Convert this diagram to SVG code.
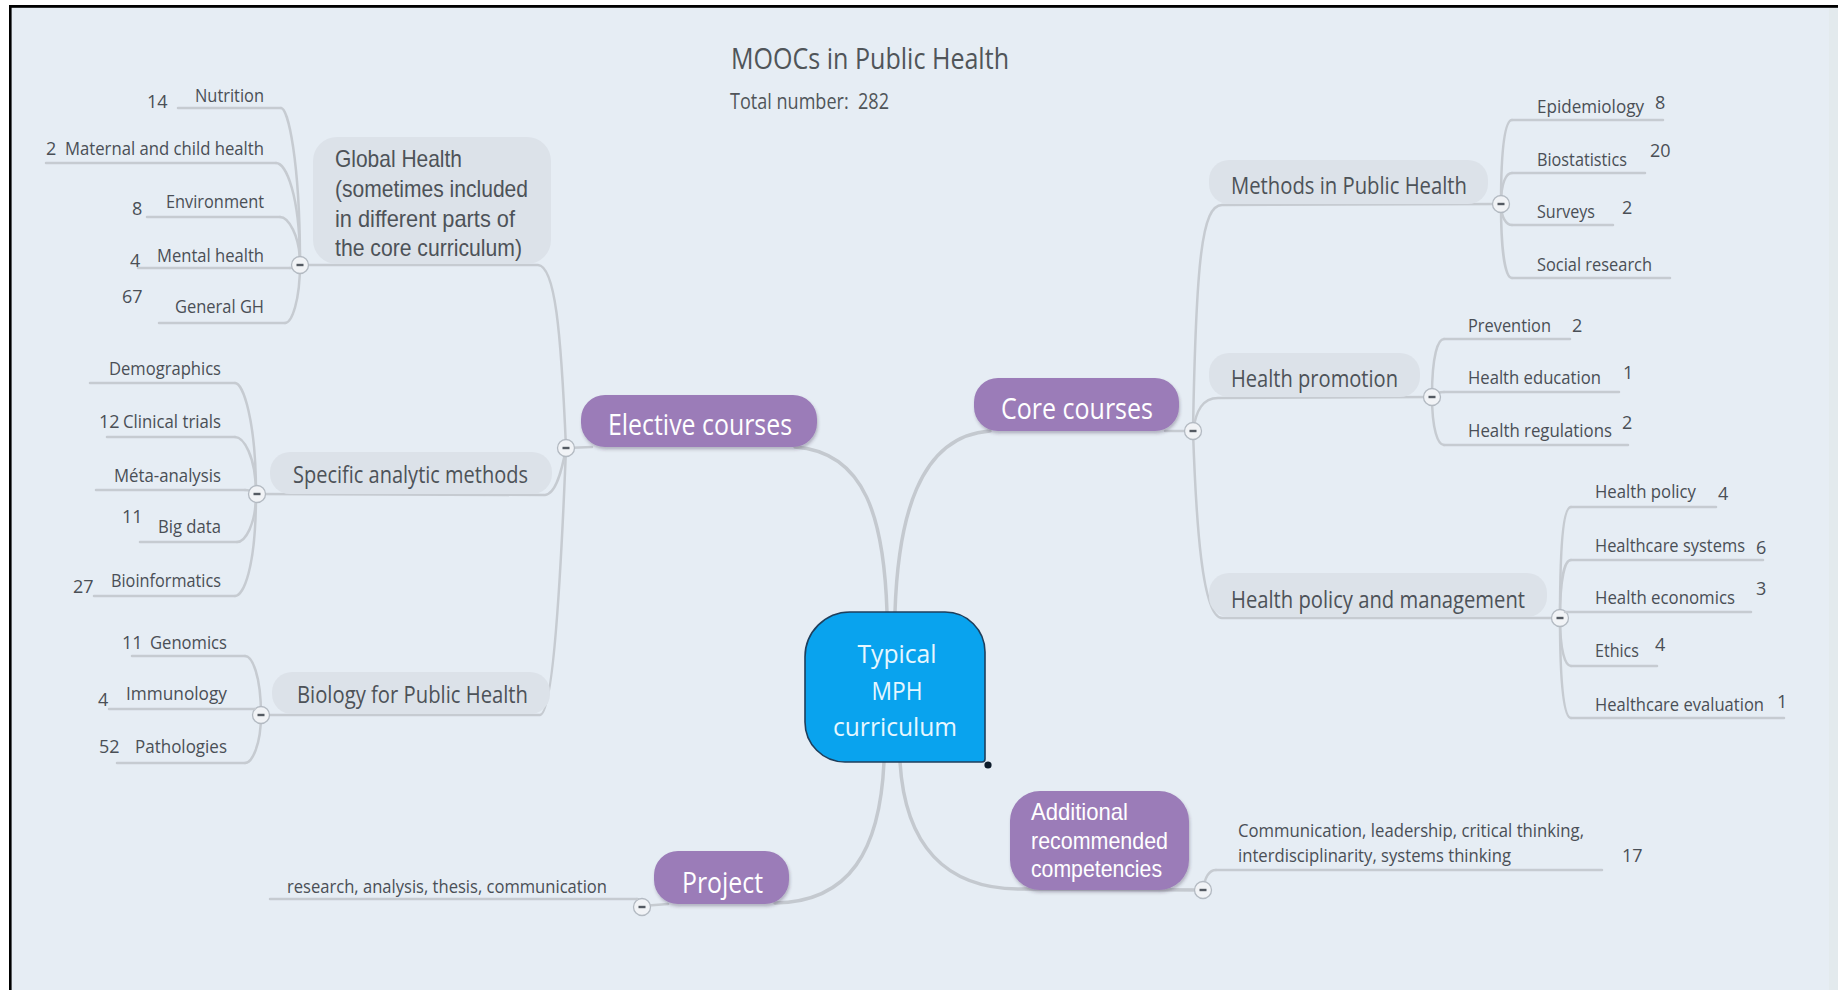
<svg xmlns="http://www.w3.org/2000/svg" width="1838" height="990" viewBox="0 0 1838 990">
<defs>
<style>
.bg{fill:#e6edf4}
.conn{fill:none;stroke:#c6cbd1;stroke-width:2.5;stroke-linecap:round}
.main{fill:none;stroke:#c4c9cf;stroke-width:3.5;stroke-linecap:round}
.ul{stroke:#c6cbd1;stroke-width:2.5;stroke-linecap:round}
.leaf{font-family:"Open Sans","Liberation Sans",sans-serif;font-size:18px;fill:#4a4f56}
.box{fill:#dce2e9}
.boxt{font-family:"Open Sans","Liberation Sans",sans-serif;font-size:23px;fill:#4d5258}
.boxm{font-family:"Liberation Sans",Arial,sans-serif;font-size:24px;fill:#4d5258}
.pur{fill:#9b7cb8;filter:url(#sh)}
.purt{font-family:"Open Sans","Liberation Sans",sans-serif;font-size:29px;fill:#ffffff}
.addt{font-family:"Liberation Sans",Arial,sans-serif;font-size:24px;fill:#ffffff}
.title{font-family:"Open Sans","Liberation Sans",sans-serif;fill:#505559}
.ctr{font-family:"Open Sans","Liberation Sans",sans-serif;font-size:26px;fill:#e6f7ff;text-anchor:middle}
</style>
<filter id="sh" x="-10%" y="-20%" width="120%" height="150%">
<feDropShadow dx="1" dy="2.5" stdDeviation="1.8" flood-color="#3a2f4a" flood-opacity="0.3"/>
</filter>
<g id="minus">
<circle cx="0" cy="0" r="8.5" fill="#f1f3f6" stroke="#b3bac2" stroke-width="1.3"/>
<rect x="-3.5" y="-1.2" width="7" height="2.4" fill="#545a62"/>
</g>
</defs>

<rect x="0" y="0" width="1838" height="990" fill="#ffffff"/>
<rect class="bg" x="11" y="7" width="1827" height="983"/>
<rect x="1829" y="7" width="9" height="983" fill="#e3eaed"/>
<rect x="9" y="5" width="1829" height="2.8" fill="#000"/>
<rect x="9" y="5" width="2.6" height="985" fill="#000"/>

<g id="title">
<text class="title" x="731" y="69" font-size="29" textLength="278" lengthAdjust="spacingAndGlyphs">MOOCs in Public Health</text>
<text class="title" x="730" y="109" font-size="21" textLength="159" lengthAdjust="spacingAndGlyphs">Total number:&#160; 282</text>
</g>

<g id="connectors">
<path class="main" d="M887 612 C884 520 866 452 795 447"/>
<path class="main" d="M895 612 C898 520 918 436 990 431"/>
<path class="main" d="M884 762 C880 850 850 902 775 903"/>
<path class="main" d="M900 762 C905 845 945 889 1020 889 L1203 890"/>
<path class="conn" d="M566 448 L592 447"/>
<path class="conn" d="M1165 431 L1193 431"/>
<path class="conn" d="M642 906 L668 904"/>
<path class="conn" d="M300 265 L538 265 C555 266 561 330 566 448"/>
<path class="conn" d="M257 494 L545 495 C556 494 562 470 566 448"/>
<path class="conn" d="M261 715 L540 715 C552 714 560 600 566 448"/>
<path class="conn" d="M1501 204 L1222 205 C1202 205 1196 260 1193 431"/>
<path class="conn" d="M1432 397 L1218 398 C1203 398 1196 410 1193 431"/>
<path class="conn" d="M1560 618 L1222 618 C1202 618 1196 520 1193 431"/>
<path class="conn" d="M300 264 C300 160 288 108 281 108"/>
<path class="conn" d="M300 264 C300 195 286 163 276 163"/>
<path class="conn" d="M300 264 C300 235 288 217 280 217"/>
<path class="conn" d="M300 264 C296 266 293 268 290 268"/>
<path class="conn" d="M300 264 C300 300 292 323 285 323"/>
<path class="conn" d="M256 494 C256 420 243 383 235 383"/>
<path class="conn" d="M256 494 C256 455 243 437 235 437"/>
<path class="conn" d="M256 494 C252 491 249 490 245 490"/>
<path class="conn" d="M256 494 C256 525 245 542 237 542"/>
<path class="conn" d="M256 494 C256 570 243 596 235 596"/>
<path class="conn" d="M261 715 C261 675 252 656 245 656"/>
<path class="conn" d="M261 715 C259 711 257 709 255 709"/>
<path class="conn" d="M261 715 C261 745 252 763 245 763"/>
<path class="conn" d="M1501 204 C1501 140 1506 120 1512 120"/>
<path class="conn" d="M1501 204 C1501 183 1506 173 1512 173"/>
<path class="conn" d="M1501 204 C1501 217 1506 225 1512 225"/>
<path class="conn" d="M1501 204 C1501 255 1506 278 1512 278"/>
<path class="conn" d="M1432 396 C1432 355 1438 339 1444 339"/>
<path class="conn" d="M1432 396 C1436 393 1440 392 1444 392"/>
<path class="conn" d="M1432 396 C1432 430 1438 445 1444 445"/>
<path class="conn" d="M1560 618 C1560 530 1565 507 1571 507"/>
<path class="conn" d="M1560 618 C1560 578 1565 560 1571 560"/>
<path class="conn" d="M1560 618 C1561 614 1563 612 1565 612"/>
<path class="conn" d="M1560 618 C1560 650 1565 666 1571 666"/>
<path class="conn" d="M1560 618 C1560 695 1565 718 1571 718"/>
<path class="conn" d="M1203 890 C1205 876 1210 870 1216 870"/>
<path class="conn" d="M642 907 C641 902 639 899 637 899"/>
</g>

<g id="central">
<path d="M850 612 H945 A40 40 0 0 1 985 652 V759 A3 3 0 0 1 982 762 H845 A40 40 0 0 1 805 722 V657 A45 45 0 0 1 850 612 Z" fill="#09a3ee" stroke="#1f3f5c" stroke-width="1.6"/>
<text class="ctr" x="897" y="663" textLength="79" lengthAdjust="spacingAndGlyphs">Typical</text>
<text class="ctr" x="897" y="700" textLength="51" lengthAdjust="spacingAndGlyphs">MPH</text>
<text class="ctr" x="895" y="736" textLength="124" lengthAdjust="spacingAndGlyphs">curriculum</text>
<circle cx="988" cy="765" r="3.6" fill="#0d1b2a"/>
</g>

<g id="elective">
<rect class="pur" x="581" y="395" width="236" height="52" rx="24"/>
<text class="purt" x="608" y="435" textLength="184" lengthAdjust="spacingAndGlyphs">Elective courses</text>
<use href="#minus" x="566" y="448"/>
</g>
<g id="core">
<rect class="pur" x="974" y="378" width="205" height="53" rx="24"/>
<text class="purt" x="1001" y="419" textLength="152" lengthAdjust="spacingAndGlyphs">Core courses</text>
<use href="#minus" x="1193" y="431"/>
</g>
<g id="project">
<rect class="pur" x="654" y="851" width="135" height="53" rx="24"/>
<text class="purt" x="682" y="893" textLength="81" lengthAdjust="spacingAndGlyphs">Project</text>
<use href="#minus" x="642" y="907"/>
</g>
<g id="additional">
<rect class="pur" x="1010" y="791" width="179" height="99" rx="30"/>
<text class="addt" x="1031" y="820" textLength="97" lengthAdjust="spacingAndGlyphs">Additional</text>
<text class="addt" x="1031" y="849" textLength="137" lengthAdjust="spacingAndGlyphs">recommended</text>
<text class="addt" x="1031" y="877" textLength="131" lengthAdjust="spacingAndGlyphs">competencies</text>
<use href="#minus" x="1203" y="890"/>
</g>

<g id="global-health">
<rect class="box" x="313" y="137" width="238" height="127" rx="24"/>
<text class="boxm" x="335" y="167" textLength="127" lengthAdjust="spacingAndGlyphs">Global Health</text>
<text class="boxm" x="335" y="197" textLength="193" lengthAdjust="spacingAndGlyphs">(sometimes included</text>
<text class="boxm" x="335" y="227" textLength="180" lengthAdjust="spacingAndGlyphs">in different parts of</text>
<text class="boxm" x="335" y="256" textLength="187" lengthAdjust="spacingAndGlyphs">the core curriculum)</text>
<use href="#minus" x="300" y="265"/>
</g>
<g id="specific">
<rect class="box" x="270" y="452" width="282" height="42" rx="20"/>
<text class="boxt" x="293" y="483" textLength="235" lengthAdjust="spacingAndGlyphs">Specific analytic methods</text>
<use href="#minus" x="257" y="494"/>
</g>
<g id="biology">
<rect class="box" x="272" y="672" width="278" height="42" rx="20"/>
<text class="boxt" x="297" y="703" textLength="231" lengthAdjust="spacingAndGlyphs">Biology for Public Health</text>
<use href="#minus" x="261" y="715"/>
</g>
<g id="methods">
<rect class="box" x="1209" y="160" width="279" height="44" rx="20"/>
<text class="boxt" x="1231" y="194" textLength="236" lengthAdjust="spacingAndGlyphs">Methods in Public Health</text>
<use href="#minus" x="1501" y="204"/>
</g>
<g id="promotion">
<rect class="box" x="1209" y="353" width="211" height="44" rx="20"/>
<text class="boxt" x="1231" y="387" textLength="167" lengthAdjust="spacingAndGlyphs">Health promotion</text>
<use href="#minus" x="1432" y="397"/>
</g>
<g id="hpm">
<rect class="box" x="1209" y="573" width="338" height="44" rx="20"/>
<text class="boxt" x="1231" y="608" textLength="294" lengthAdjust="spacingAndGlyphs">Health policy and management</text>
<use href="#minus" x="1560" y="618"/>
</g>

<g id="nutrition"><line class="ul" x1="178" y1="108" x2="281" y2="108"/><text class="leaf" x="147" y="108">14</text><text class="leaf" x="195" y="102" textLength="69" lengthAdjust="spacingAndGlyphs">Nutrition</text></g>
<g id="maternal"><line class="ul" x1="46" y1="163" x2="276" y2="163"/><text class="leaf" x="46" y="155">2</text><text class="leaf" x="65" y="155" textLength="199" lengthAdjust="spacingAndGlyphs">Maternal and child health</text></g>
<g id="environment"><line class="ul" x1="147" y1="217" x2="280" y2="217"/><text class="leaf" x="132" y="215">8</text><text class="leaf" x="166" y="208" textLength="98" lengthAdjust="spacingAndGlyphs">Environment</text></g>
<g id="mental"><line class="ul" x1="138" y1="268" x2="290" y2="268"/><text class="leaf" x="130" y="267">4</text><text class="leaf" x="157" y="262" textLength="107" lengthAdjust="spacingAndGlyphs">Mental health</text></g>
<g id="general-gh"><line class="ul" x1="159" y1="323" x2="285" y2="323"/><text class="leaf" x="122" y="303">67</text><text class="leaf" x="175" y="313" textLength="89" lengthAdjust="spacingAndGlyphs">General GH</text></g>

<g id="demographics"><line class="ul" x1="90" y1="383" x2="235" y2="383"/><text class="leaf" x="109" y="375" textLength="112" lengthAdjust="spacingAndGlyphs">Demographics</text></g>
<g id="clinical"><line class="ul" x1="107" y1="437" x2="235" y2="437"/><text class="leaf" x="99" y="428">12</text><text class="leaf" x="123" y="428" textLength="98" lengthAdjust="spacingAndGlyphs">Clinical trials</text></g>
<g id="meta"><line class="ul" x1="96" y1="490" x2="245" y2="490"/><text class="leaf" x="114" y="482" textLength="107" lengthAdjust="spacingAndGlyphs">Méta-analysis</text></g>
<g id="bigdata"><line class="ul" x1="140" y1="542" x2="237" y2="542"/><text class="leaf" x="122" y="523">11</text><text class="leaf" x="158" y="533" textLength="63" lengthAdjust="spacingAndGlyphs">Big data</text></g>
<g id="bioinformatics"><line class="ul" x1="94" y1="596" x2="235" y2="596"/><text class="leaf" x="73" y="593">27</text><text class="leaf" x="111" y="587" textLength="110" lengthAdjust="spacingAndGlyphs">Bioinformatics</text></g>

<g id="genomics"><line class="ul" x1="132" y1="656" x2="245" y2="656"/><text class="leaf" x="122" y="649">11</text><text class="leaf" x="150" y="649" textLength="77" lengthAdjust="spacingAndGlyphs">Genomics</text></g>
<g id="immunology"><line class="ul" x1="109" y1="709" x2="255" y2="709"/><text class="leaf" x="98" y="706">4</text><text class="leaf" x="126" y="700" textLength="101" lengthAdjust="spacingAndGlyphs">Immunology</text></g>
<g id="pathologies"><line class="ul" x1="117" y1="763" x2="245" y2="763"/><text class="leaf" x="99" y="753">52</text><text class="leaf" x="135" y="753" textLength="92" lengthAdjust="spacingAndGlyphs">Pathologies</text></g>

<g id="epidemiology"><line class="ul" x1="1512" y1="120" x2="1663" y2="120"/><text class="leaf" x="1537" y="113" textLength="107" lengthAdjust="spacingAndGlyphs">Epidemiology</text><text class="leaf" x="1655" y="109">8</text></g>
<g id="biostatistics"><line class="ul" x1="1512" y1="173" x2="1645" y2="173"/><text class="leaf" x="1537" y="166" textLength="90" lengthAdjust="spacingAndGlyphs">Biostatistics</text><text class="leaf" x="1650" y="157">20</text></g>
<g id="surveys"><line class="ul" x1="1512" y1="225" x2="1613" y2="225"/><text class="leaf" x="1537" y="218" textLength="58" lengthAdjust="spacingAndGlyphs">Surveys</text><text class="leaf" x="1622" y="214">2</text></g>
<g id="social"><line class="ul" x1="1512" y1="278" x2="1670" y2="278"/><text class="leaf" x="1537" y="271" textLength="115" lengthAdjust="spacingAndGlyphs">Social research</text></g>

<g id="prevention"><line class="ul" x1="1444" y1="339" x2="1570" y2="339"/><text class="leaf" x="1468" y="332" textLength="83" lengthAdjust="spacingAndGlyphs">Prevention</text><text class="leaf" x="1572" y="332">2</text></g>
<g id="education"><line class="ul" x1="1444" y1="392" x2="1619" y2="392"/><text class="leaf" x="1468" y="384" textLength="133" lengthAdjust="spacingAndGlyphs">Health education</text><text class="leaf" x="1623" y="379">1</text></g>
<g id="regulations"><line class="ul" x1="1444" y1="445" x2="1628" y2="445"/><text class="leaf" x="1468" y="437" textLength="144" lengthAdjust="spacingAndGlyphs">Health regulations</text><text class="leaf" x="1622" y="429">2</text></g>

<g id="policy"><line class="ul" x1="1571" y1="507" x2="1716" y2="507"/><text class="leaf" x="1595" y="498" textLength="101" lengthAdjust="spacingAndGlyphs">Health policy</text><text class="leaf" x="1718" y="500">4</text></g>
<g id="systems"><line class="ul" x1="1571" y1="560" x2="1763" y2="560"/><text class="leaf" x="1595" y="552" textLength="150" lengthAdjust="spacingAndGlyphs">Healthcare systems</text><text class="leaf" x="1756" y="554">6</text></g>
<g id="economics"><line class="ul" x1="1565" y1="612" x2="1751" y2="612"/><text class="leaf" x="1595" y="604" textLength="140" lengthAdjust="spacingAndGlyphs">Health economics</text><text class="leaf" x="1756" y="595">3</text></g>
<g id="ethics"><line class="ul" x1="1571" y1="666" x2="1657" y2="666"/><text class="leaf" x="1595" y="657" textLength="44" lengthAdjust="spacingAndGlyphs">Ethics</text><text class="leaf" x="1655" y="651">4</text></g>
<g id="evaluation"><line class="ul" x1="1571" y1="718" x2="1784" y2="718"/><text class="leaf" x="1595" y="711" textLength="169" lengthAdjust="spacingAndGlyphs">Healthcare evaluation</text><text class="leaf" x="1777" y="708">1</text></g>

<g id="competencies"><line class="ul" x1="1216" y1="870" x2="1602" y2="870"/>
<text class="leaf" x="1238" y="837" textLength="346" lengthAdjust="spacingAndGlyphs">Communication, leadership, critical thinking,</text>
<text class="leaf" x="1238" y="862" textLength="273" lengthAdjust="spacingAndGlyphs">interdisciplinarity, systems thinking</text>
<text class="leaf" x="1622" y="862">17</text></g>

<g id="project-items"><line class="ul" x1="270" y1="899" x2="637" y2="899"/>
<text class="leaf" x="287" y="893" textLength="320" lengthAdjust="spacingAndGlyphs">research, analysis, thesis, communication</text></g>
</svg>
